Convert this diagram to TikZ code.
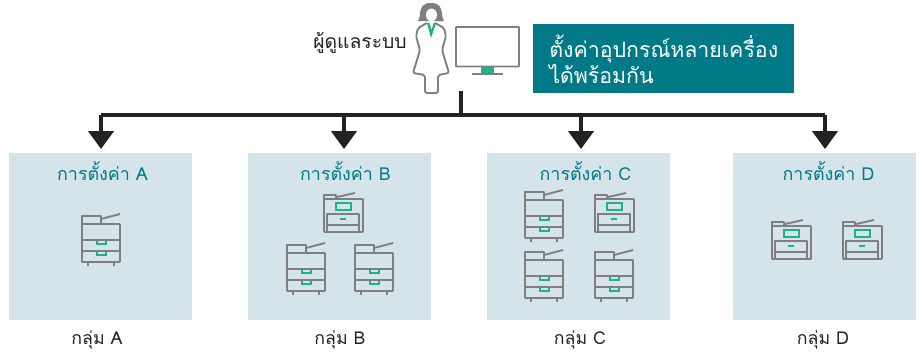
\documentclass[tikz,border=0pt]{standalone}
\usepackage{fontspec}
\usepackage{xcolor}
\setmainfont[Script=Thai]{Loma}
\usetikzlibrary{arrows.meta,positioning}
\definecolor{panelblue}{HTML}{D5E3EA}
\definecolor{tealbox}{HTML}{007A87}
\definecolor{iconfill}{HTML}{7F7F7F}
\definecolor{icongreen}{HTML}{1DB288}
\definecolor{barblack}{HTML}{222222}

\begin{document}
\begin{tikzpicture}
                [x=0.75pt, y=-0.75pt, >=Triangle,
                panel/.style={fill=panelblue,minimum width=137.25pt,minimum height=125.25pt,inner sep=0pt,draw=none},
                panel title/.style={text=tealbox,font=\fontsize{13.4}{15}\selectfont},
                group label/.style={text=barblack,font=\fontsize{13.3}{15}\selectfont},
                bus/.style={draw=barblack,line width=2.5pt},
                bus arrow/.style={bus,-{Triangle[width=19pt,length=13.5pt]}},
                icon/.style={draw=iconfill,line width=1.4pt,line join=round},
                icon green/.style={draw=icongreen,line width=1.3pt},
                pics/tall printer/.style={code={
                    \draw[icon] (0,-8) rectangle (19,0);
                    \draw[icon] (19,-5) -- (38,-10);
                    \draw[icon,rounded corners=0.5pt] (0,0) rectangle (38,38);
                    \draw[icon] (0,16) -- (38,16) (0,27) -- (38,27);
                    \draw[icon] (6,38) -- (6,42) (32,38) -- (32,42);
                    \draw[icon green] (15,17) -- (15,20) -- (24,20) -- (24,17);
                    \draw[icon green] (15,28) -- (15,31) -- (24,31) -- (24,28);
                }},
                pics/wide printer/.style={code={
                    \draw[icon] (0,0) -- (0,-4) -- (12,-4) -- (12,0);
                    \draw[icon] (13,-2) -- (31,-6);
                    \draw[icon,rounded corners=0.5pt] (0,0) rectangle (39,33);
                    \draw[icon] (3,33) -- (3,15) -- (35,15) -- (35,33) (3,26) -- (35,26);
                    \draw[icon green] (12,4) rectangle (27,11);
                    \draw[icongreen,line width=1.6pt] (16,20) -- (22,20);
                }},
                ]
                \useasboundingbox (0,0) rectangle (920,354);

                % panels
                \node[panel] (panelA) at (100.5,236.5) {};
                \node[panel] (panelB) at (339.5,236.5) {};
                \node[panel] (panelC) at (578.5,236.5) {};
                \node[panel] (panelD) at (824.5,236.5) {};

                \node[panel title] (titleA) at (102.5,171.5) {การตั้งค่า A};
                \node[panel title] (titleB) at (345.5,171.5) {การตั้งค่า B};
                \node[panel title] (titleC) at (585.5,171.5) {การตั้งค่า C};
                \node[panel title] (titleD) at (828.5,171.5) {การตั้งค่า D};

                \node[group label] (groupA) at (97,340) {กลุ่ม A};
                \node[group label] (groupB) at (340,340) {กลุ่ม B};
                \node[group label] (groupC) at (580,340) {กลุ่ม C};
                \node[group label] (groupD) at (823,340) {กลุ่ม D};

                % printers
                \pic at (82,224) {tall printer};
                \pic at (324,199) {wide printer};
                \pic at (287,253) {tall printer};
                \pic at (355,253) {tall printer};
                \pic at (525,200) {tall printer};
                \pic at (595,199) {wide printer};
                \pic at (525,260) {tall printer};
                \pic at (595,260) {tall printer};
                \pic at (772,226) {wide printer};
                \pic at (843,226) {wide printer};

                % admin and monitor
                \node[group label,font=\fontsize{14.5}{16}\selectfont] (admin) at (360,43) {ผู้ดูแลระบบ};
                \node[fill=tealbox,minimum width=195.75pt,minimum height=51.75pt,inner sep=0pt] (note) at (663,58.5) {};
                \node[text=white,align=left,inner sep=0pt,font=\fontsize{16}{18.5}\selectfont,anchor=west]
                    (noteText) at (549,59.5) {ตั้งค่าอุปกรณ์หลายเครื่อง\\ได้พร้อมกัน};

                \fill[iconfill] (431,3) .. controls (422,3) and (421,8) .. (420,13)
                    .. controls (420,17) and (419,19) .. (418,21) -- (444,21)
                    .. controls (443,19) and (442,17) .. (442,13)
                    .. controls (441,8) and (440,3) .. (431,3) -- cycle;
                \fill[white] (431.5,15) ellipse [x radius=5.5,y radius=6.5];
                \draw[icon,rounded corners=1.5pt] (427,23) -- (418,28) -- (416,36) -- (420,50) -- (413,73) -- (425,75)
                    -- (425,93) -- (438,93) -- (438,75) -- (449,73) -- (442,50) -- (446,36) -- (444,28) -- (435,23);
                \fill[icongreen] (427,23) -- (431,38) -- (436,23) -- (433.5,23) -- (431.5,30) -- (429.5,23) -- cycle;
                \draw[icon,rounded corners=0.5pt] (456,27) rectangle (519,66.5);
                \fill[icongreen] (481,67) rectangle (494,73);
                \draw[icon] (472,74) -- (503,74);

                % connectors
                \coordinate (busTop) at (461,91);
                \coordinate (busMid) at (461,115);
                \draw[bus] (busTop) -- (busMid);
                \draw[bus] (101,115) coordinate (busLeft) -- (825,115) coordinate (busRight);
                \draw[bus arrow] (busLeft) -- (101,149) coordinate (endA);
                \draw[bus arrow] (344,115) coordinate (startB) -- (344,149) coordinate (endB);
                \draw[bus arrow] (581,115) coordinate (startC) -- (581,149) coordinate (endC);
                \draw[bus arrow] (busRight) -- (825,149) coordinate (endD);
            \end{tikzpicture}
\end{document}
